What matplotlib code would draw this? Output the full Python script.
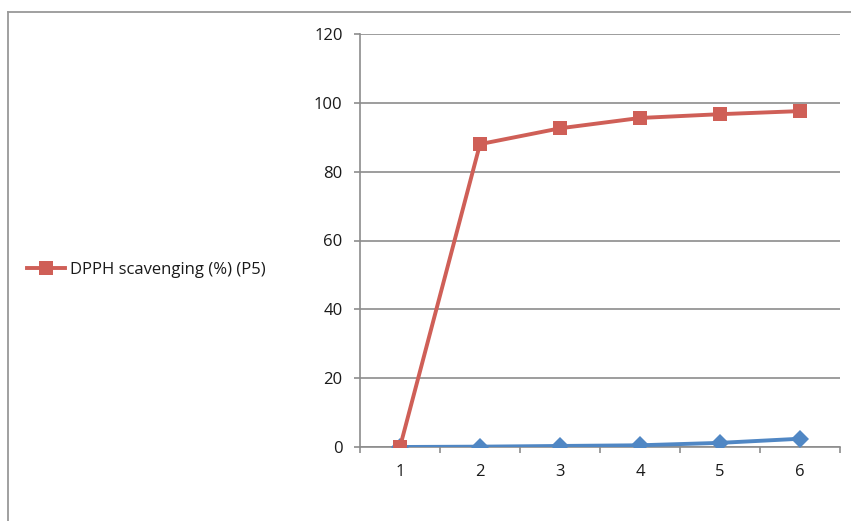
import matplotlib.pyplot as plt
from matplotlib.lines import Line2D

# sample points and measured series
samples = [1, 2, 3, 4, 5, 6]
dpph_p5 = [0.0, 88.0, 92.6, 95.6, 96.7, 97.6]
control = [0.0, 0.1, 0.3, 0.5, 1.2, 2.4]
y_ticks = [0, 20, 40, 60, 80, 100, 120]

RED = "#CF5F57"
BLUE = "#5087C4"
GRID = "#8C8C8C"
TEXT = "#1a1a1a"
FS = 12

plt.rcParams["font.family"] = ["Open Sans", "DejaVu Sans"]

fig = plt.figure(figsize=(8.51, 5.21), dpi=100)
ax = fig.add_axes([360 / 851, 74 / 521, 480 / 851, 413 / 521])

ax.plot(samples, control, color=BLUE, lw=2.8, marker="D", ms=9.5,
        markeredgewidth=0, zorder=3)
ax.plot(samples, dpph_p5, color=RED, lw=2.8, marker="s", ms=10.5,
        markeredgewidth=0, label="DPPH scavenging (%) (P5)", zorder=4)

ax.set_xlim(0.5, 6.5)
ax.set_ylim(0, 120)
ax.set_yticks(y_ticks)
ax.set_xticks(samples)
ax.set_xticks([s + 0.5 for s in [0] + samples], minor=True)
ax.yaxis.grid(True, color=GRID, lw=1.2)
ax.set_axisbelow(True)

for side in ("top", "right"):
    ax.spines[side].set_visible(False)
for side in ("left", "bottom"):
    ax.spines[side].set_color(GRID)
    ax.spines[side].set_linewidth(1.2)

ax.tick_params(axis="y", length=4.5, width=1.2, color=GRID, pad=8,
               labelsize=FS, labelcolor=TEXT)
ax.tick_params(axis="x", which="major", length=0, pad=12,
               labelsize=FS, labelcolor=TEXT)
ax.tick_params(axis="x", which="minor", length=4, width=1.2, color=GRID)

leg = fig.legend(loc="center left", bbox_to_anchor=(0.024, 0.482),
                 frameon=False, fontsize=FS, handlelength=2.3,
                 handletextpad=0.25, borderaxespad=0)
for t in leg.get_texts():
    t.set_color(TEXT)

# chart frame, cut off at right and bottom
fig.add_artist(Line2D([8 / 851, 8 / 851], [0, 1 - 12 / 521],
                      color="#999999", lw=1.3, transform=fig.transFigure))
fig.add_artist(Line2D([8 / 851, 1], [1 - 12 / 521, 1 - 12 / 521],
                      color="#999999", lw=1.3, transform=fig.transFigure))

fig.savefig("out.png", dpi=100)
